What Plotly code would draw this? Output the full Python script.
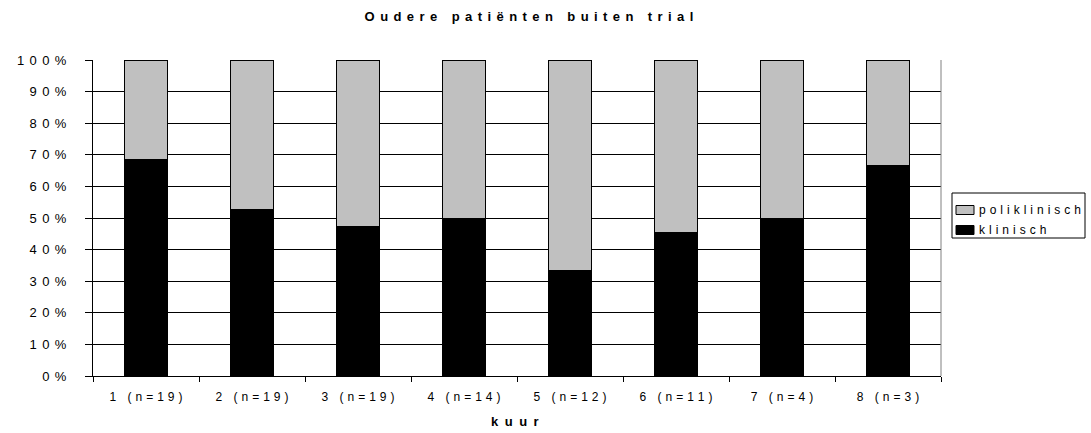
import plotly.graph_objects as go

# Treatment cycles (kuur) with number of patients per cycle
kuur = ["1 (n=19)", "2 (n=19)", "3 (n=19)", "4 (n=14)",
        "5 (n=12)", "6 (n=11)", "7 (n=4)", "8 (n=3)"]
# Patient counts per cycle
klinisch = [13, 10, 9, 7, 4, 5, 2, 2]
poliklinisch = [6, 9, 10, 7, 8, 6, 2, 1]

y_ticks = [0, 10, 20, 30, 40, 50, 60, 70, 80, 90, 100]

GREY = "#c0c0c0"
BLACK = "#000000"

W, H = 1091, 433
# plot area in pixels
L, R, T, B = 93, 941, 60, 376
FONT = "Liberation Sans, Arial, sans-serif"

GAP = "\u2004\u200a"      # wide letter spacing
NARROW_GAP = "\u2004"
WIDE_GAP = "\u2002"


def spaced(text, gap=GAP):
    """Wide letter spacing, as in the original spreadsheet chart."""
    return gap.join(text)


def px_x(px):
    return (px - L) / (R - L)


def px_y(py):
    return (B - py) / (B - T)


fig = go.Figure()
fig.add_trace(go.Bar(
    x=kuur, y=klinisch, name="klinisch",
    marker=dict(color=BLACK, line=dict(color=BLACK, width=1)),
))
fig.add_trace(go.Bar(
    x=kuur, y=poliklinisch, name="poliklinisch",
    marker=dict(color=GREY, line=dict(color=BLACK, width=1)),
))

fig.update_layout(
    width=W, height=H,
    barmode="stack", barnorm="percent", bargap=0.59,
    paper_bgcolor="white", plot_bgcolor="white",
    margin=dict(l=L, r=W - R, t=T, b=H - B),
    font=dict(family=FONT, size=12, color=BLACK),
    title=dict(
        text="<b>" + spaced("Oudere patiënten buiten trial") + "</b>",
        x=529 / W, xanchor="center", xref="container",
        y=1 - 16 / H, yanchor="middle", yref="container",
        font=dict(family=FONT, size=13, color=BLACK),
    ),
    showlegend=False,
)

fig.update_xaxes(
    type="category",
    tickvals=kuur, ticktext=[spaced(k, NARROW_GAP) for k in kuur],
    showline=True, linecolor=BLACK, linewidth=1,
    ticks="outside", tickson="boundaries", ticklen=5, tickcolor=BLACK,
    ticklabelstandoff=10,
    showgrid=False,
    tickfont=dict(family=FONT, size=12, color=BLACK),
)

fig.update_yaxes(
    range=[0, 100],
    tickvals=y_ticks,
    ticktext=[spaced(f"{v}%") for v in y_ticks],
    showline=True, linecolor=BLACK, linewidth=1,
    ticks="outside", ticklen=7, tickcolor=BLACK,
    ticklabelstandoff=16,
    showgrid=True, gridcolor=BLACK, gridwidth=1,
    zeroline=False,
    tickfont=dict(family=FONT, size=13, color=BLACK),
)

# x-axis title
fig.add_annotation(
    text="<b>" + spaced("kuur", WIDE_GAP) + "</b>",
    xref="paper", yref="paper", x=px_x(515), y=px_y(421),
    xanchor="center", yanchor="middle", showarrow=False,
    font=dict(family=FONT, size=13, color=BLACK),
)

# Grey right-hand border of the plot area
fig.add_shape(type="line", xref="paper", yref="paper",
              x0=1, x1=1, y0=0, y1=1,
              line=dict(color="#808080", width=1))

# Legend box with swatches (poliklinisch above klinisch)
fig.add_shape(type="rect", xref="paper", yref="paper",
              x0=px_x(952), x1=px_x(1085), y0=px_y(238), y1=px_y(193),
              line=dict(color=BLACK, width=1), fillcolor="white")
legend_items = [("poliklinisch", GREY, 210), ("klinisch", BLACK, 230)]
for label, colour, cy in legend_items:
    fig.add_shape(type="rect", xref="paper", yref="paper",
                  x0=px_x(956), x1=px_x(974),
                  y0=px_y(cy + 4.5), y1=px_y(cy - 4.5),
                  line=dict(color=BLACK, width=1), fillcolor=colour)
    fig.add_annotation(
        text=spaced(label, NARROW_GAP),
        xref="paper", yref="paper", x=px_x(977), y=px_y(cy),
        xanchor="left", yanchor="middle", showarrow=False,
        font=dict(family=FONT, size=12, color=BLACK),
    )

fig.write_html("out.html")
